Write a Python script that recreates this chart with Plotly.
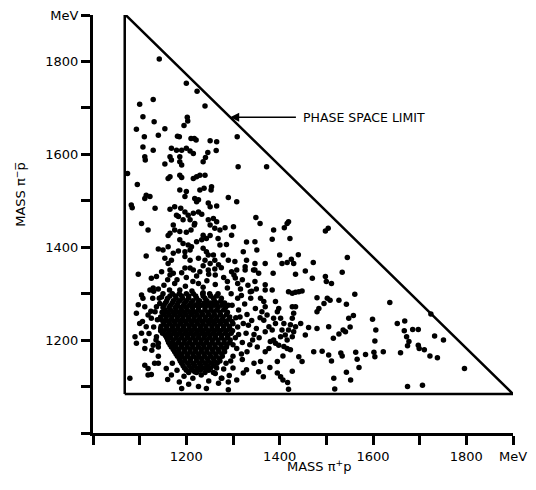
import plotly.graph_objects as go

# ---- phase-space boundary (MeV) ----
boundary_x = [1068, 1068, 1900, 1068]
boundary_y = [1084, 1902, 1084, 1084]

# ---- axis ticks ----
tick_vals = [1000, 1100, 1200, 1300, 1400, 1500, 1600, 1700, 1800, 1900]
tick_text = ["", "", "1200", "", "1400", "", "1600", "", "1800", "MeV"]

# ---- events: (M(pi+ p), M(pi- pbar)) in MeV ----
upper_events = [
    (1142, 1805), (1200, 1753), (1223, 1736), (1100, 1708), (1129, 1718), (1240, 1704),
    (1107, 1681), (1131, 1670), (1202, 1680), (1203, 1672), (1195, 1662), (1093, 1654),
    (1154, 1655), (1110, 1638), (1140, 1641), (1181, 1639), (1185, 1638), (1210, 1634),
    (1217, 1634), (1221, 1631), (1251, 1629), (1265, 1627), (1309, 1638),
    (1107, 1616), (1129, 1609), (1168, 1613), (1179, 1609), (1190, 1609), (1200, 1613),
    (1208, 1607), (1215, 1602), (1165, 1595), (1168, 1588), (1186, 1595), (1186, 1584),
    (1246, 1604), (1264, 1608), (1111, 1595), (1112, 1588), (1241, 1593), (1236, 1584),
    (1154, 1579), (1190, 1577), (1311, 1573), (1372, 1573), (1074, 1559), (1165, 1552),
    (1161, 1548), (1186, 1555), (1190, 1550), (1215, 1548), (1222, 1552), (1229, 1555),
    (1240, 1555), (1095, 1535), (1186, 1523), (1200, 1520), (1229, 1523), (1238, 1527),
    (1254, 1530), (1253, 1523), (1114, 1512), (1122, 1509), (1111, 1505), (1197, 1509),
    (1218, 1505), (1226, 1502), (1222, 1498), (1247, 1495), (1251, 1487), (1290, 1507),
    (1308, 1498), (1265, 1489), (1082, 1491), (1084, 1485), (1133, 1484), (1165, 1482),
    (1175, 1487), (1188, 1484), (1197, 1476), (1179, 1469), (1183, 1466), (1204, 1469),
    (1215, 1473), (1226, 1476), (1233, 1471), (1193, 1459), (1208, 1459), (1218, 1451),
    (1247, 1459), (1258, 1462), (1265, 1455), (1349, 1464), (1358, 1451), (1104, 1451),
    (1118, 1437), (1172, 1448), (1175, 1437), (1165, 1430), (1161, 1425), (1186, 1434),
    (1200, 1432), (1210, 1437), (1217, 1448), (1251, 1448), (1261, 1441), (1272, 1437),
    (1283, 1442), (1301, 1444), (1236, 1426), (1243, 1419), (1251, 1425), (1297, 1426),
]

middle_events = [
    (1222, 1412), (1233, 1416), (1186, 1416), (1193, 1408), (1204, 1405), (1211, 1401),
    (1268, 1419), (1272, 1405), (1286, 1406), (1329, 1411), (1347, 1412), (1161, 1401),
    (1150, 1394), (1140, 1396), (1172, 1387), (1183, 1392), (1197, 1390), (1208, 1394),
    (1236, 1398), (1243, 1390), (1247, 1383), (1258, 1383), (1279, 1383), (1290, 1372),
    (1304, 1369), (1322, 1390), (1351, 1394), (1114, 1381), (1154, 1376), (1168, 1372),
    (1161, 1365), (1197, 1380), (1208, 1372), (1226, 1376), (1240, 1372), (1251, 1365),
    (1261, 1372), (1269, 1362), (1329, 1372), (1347, 1365), (1369, 1365), (1147, 1347),
    (1165, 1351), (1172, 1344), (1197, 1355), (1215, 1351), (1229, 1347), (1247, 1351),
    (1261, 1353), (1297, 1347), (1308, 1351), (1326, 1351), (1347, 1351),
    (1387, 1437), (1384, 1417), (1410, 1442), (1416, 1451), (1419, 1455), (1422, 1419),
    (1498, 1435), (1504, 1441), (1400, 1383), (1405, 1365), (1416, 1367), (1425, 1374),
    (1430, 1365), (1440, 1384), (1472, 1367), (1545, 1378),
    (1097, 1342), (1125, 1333), (1136, 1337), (1104, 1297), (1107, 1290), (1122, 1308),
    (1129, 1312), (1093, 1258), (1090, 1207), (1093, 1193), (1111, 1182), (1111, 1146),
    (1118, 1139), (1118, 1125), (1125, 1126), (1079, 1118), (1140, 1150), (1157, 1139),
    (1168, 1125), (1190, 1096), (1243, 1096), (1136, 1207), (1140, 1193), (1129, 1189),
    (1100, 1236), (1114, 1229), (1104, 1215), (1118, 1254), (1125, 1247), (1133, 1261),
    (1097, 1276), (1111, 1272), (1143, 1279), (1147, 1293), (1344, 1351), (1355, 1344),
    (1326, 1358), (1369, 1319), (1347, 1326), (1337, 1304), (1269, 1107), (1276, 1118),
    (1290, 1110), (1308, 1114), (1322, 1129), (1329, 1136), (1355, 1132), (1365, 1121),
    (1290, 1093),
]

right_events = [
    (1386, 1344), (1434, 1342), (1455, 1349), (1470, 1333), (1498, 1337), (1500, 1326),
    (1511, 1322), (1534, 1346), (1369, 1308), (1384, 1308), (1419, 1304), (1427, 1301),
    (1434, 1303), (1441, 1304), (1448, 1306), (1480, 1291), (1495, 1279), (1502, 1290),
    (1508, 1286), (1484, 1268), (1480, 1261), (1527, 1286), (1543, 1277), (1561, 1299),
    (1636, 1281), (1548, 1247), (1558, 1253), (1599, 1245), (1606, 1222), (1604, 1198),
    (1652, 1236), (1668, 1241), (1667, 1220), (1672, 1207), (1674, 1188),
    (1359, 1290), (1366, 1283), (1369, 1272), (1362, 1261), (1373, 1254), (1366, 1243),
    (1377, 1229), (1369, 1218), (1384, 1222), (1391, 1236), (1387, 1247), (1395, 1261),
    (1398, 1268), (1391, 1283), (1402, 1247), (1409, 1236), (1405, 1222), (1402, 1207),
    (1412, 1211), (1416, 1200), (1419, 1222), (1423, 1233), (1427, 1247), (1430, 1258),
    (1427, 1272), (1434, 1272), (1430, 1218), (1427, 1207), (1434, 1229), (1445, 1236),
    (1380, 1197), (1377, 1182), (1369, 1175), (1391, 1193), (1398, 1189), (1409, 1186),
    (1416, 1182), (1423, 1179), (1387, 1200),
    (1455, 1211), (1462, 1227), (1480, 1225), (1505, 1229), (1515, 1204), (1527, 1213),
    (1536, 1222), (1541, 1218), (1551, 1228), (1407, 1166), (1395, 1154), (1441, 1164),
    (1448, 1154), (1473, 1175), (1491, 1176), (1505, 1168), (1511, 1155), (1531, 1172),
    (1534, 1166), (1563, 1174), (1566, 1159), (1584, 1169), (1602, 1174), (1604, 1164),
    (1622, 1175), (1659, 1173), (1359, 1154), (1379, 1141), (1395, 1129), (1402, 1121),
    (1407, 1114), (1417, 1109), (1427, 1133), (1516, 1118), (1518, 1095), (1543, 1131),
    (1552, 1114), (1570, 1141), (1419, 1094), (1674, 1100),
    (1724, 1256), (1685, 1223), (1697, 1223), (1677, 1197), (1697, 1189), (1699, 1182),
    (1710, 1179), (1732, 1209), (1751, 1200), (1722, 1166), (1738, 1162), (1796, 1139),
    (1706, 1103),
]

halo_events = [
    (1152, 1318), (1175, 1322), (1198, 1316), (1214, 1326), (1236, 1314), (1262, 1320),
    (1288, 1312), (1310, 1322), (1165, 1340), (1190, 1345), (1222, 1338), (1248, 1342),
    (1280, 1335), (1302, 1340), (1320, 1330), (1140, 1310), (1208, 1355), (1236, 1360),
    (1275, 1356), (1128, 1290), (1136, 1272), (1124, 1262), (1138, 1244), (1130, 1228),
    (1120, 1214), (1135, 1200), (1126, 1178), (1140, 1165), (1132, 1150), (1112, 1198),
    (1106, 1240), (1310, 1290), (1325, 1278), (1338, 1290), (1312, 1265), (1330, 1255),
    (1348, 1268), (1306, 1248), (1322, 1236), (1340, 1242), (1310, 1228), (1328, 1215),
    (1350, 1225), (1305, 1205), (1320, 1195), (1342, 1200), (1308, 1182), (1330, 1175),
    (1352, 1185), (1300, 1165), (1320, 1158), (1345, 1150), (1356, 1205), (1358, 1248),
    (1316, 1310), (1340, 1305), (1180, 1135), (1195, 1122), (1214, 1118), (1232, 1125),
    (1248, 1112), (1262, 1128), (1280, 1138), (1292, 1124), (1205, 1105), (1226, 1100),
    (1170, 1150), (1285, 1150), (1300, 1140),
    (1296, 1300), (1318, 1296), (1332, 1318), (1350, 1310), (1288, 1326), (1305, 1334),
    (1262, 1340), (1244, 1328), (1226, 1322), (1180, 1330), (1160, 1330), (1200, 1335),
    (1150, 1300), (1298, 1275), (1315, 1250), (1333, 1232), (1345, 1212), (1312, 1212),
    (1336, 1190), (1300, 1190), (1318, 1170), (1295, 1155), (1140, 1185), (1145, 1220),
    (1142, 1290), (1130, 1305), (1265, 1140), (1245, 1140), (1218, 1132), (1275, 1118),
    (1185, 1110), (1160, 1115), (1236, 1302), (1212, 1306), (1186, 1308), (1164, 1308),
]

# dense core: rows of (M(pi- pbar), [M(pi+ p) ...])
core_rows = [
    (1300, [1170, 1185, 1200, 1215, 1235, 1250, 1268]),
    (1295, [1165, 1177, 1190, 1205, 1220, 1236, 1252, 1265]),
    (1290, [1160, 1178, 1192, 1205, 1222, 1240, 1258, 1275]),
    (1285, [1158, 1172, 1186, 1200, 1214, 1228, 1244, 1260, 1274]),
    (1280, [1155, 1170, 1182, 1196, 1210, 1225, 1238, 1252, 1266, 1282]),
    (1275, [1152, 1166, 1180, 1194, 1206, 1219, 1232, 1246, 1260, 1276, 1290]),
    (1270, [1150, 1163, 1176, 1188, 1200, 1213, 1226, 1240, 1253, 1268, 1284]),
    (1265, [1154, 1166, 1178, 1190, 1202, 1214, 1226, 1240, 1253, 1265, 1280]),
    (1260, [1148, 1160, 1172, 1184, 1196, 1208, 1220, 1233, 1246, 1259, 1272, 1288]),
    (1255, [1151, 1163, 1175, 1187, 1199, 1211, 1223, 1235, 1248, 1260, 1273, 1286]),
    (1250, [1145, 1157, 1169, 1181, 1193, 1205, 1217, 1229, 1241, 1254, 1266, 1279, 1293]),
    (1245, [1145, 1156, 1168, 1180, 1192, 1204, 1216, 1228, 1240, 1252, 1264, 1277, 1291]),
    (1240, [1150, 1162, 1174, 1186, 1198, 1210, 1222, 1234, 1246, 1258, 1271, 1284, 1298]),
    (1235, [1152, 1164, 1176, 1188, 1200, 1212, 1224, 1236, 1249, 1261, 1274, 1286, 1300]),
    (1230, [1146, 1158, 1170, 1182, 1194, 1206, 1218, 1230, 1242, 1255, 1267, 1280, 1292]),
    (1225, [1145, 1158, 1170, 1182, 1194, 1206, 1218, 1230, 1242, 1255, 1267, 1280, 1293]),
    (1220, [1152, 1164, 1176, 1188, 1200, 1212, 1224, 1236, 1248, 1261, 1273, 1286, 1299]),
    (1215, [1149, 1161, 1173, 1185, 1197, 1209, 1221, 1233, 1245, 1257, 1270, 1283, 1296]),
    (1210, [1155, 1167, 1179, 1191, 1203, 1215, 1227, 1239, 1251, 1263, 1276, 1289]),
    (1205, [1158, 1166, 1178, 1190, 1202, 1214, 1226, 1238, 1250, 1262, 1275, 1288]),
    (1200, [1160, 1172, 1184, 1196, 1208, 1220, 1232, 1244, 1256, 1268, 1281, 1294]),
    (1195, [1162, 1171, 1183, 1195, 1207, 1219, 1231, 1243, 1255, 1268, 1281, 1293]),
    (1190, [1165, 1177, 1189, 1201, 1213, 1225, 1237, 1249, 1261, 1274, 1287]),
    (1185, [1168, 1178, 1190, 1202, 1214, 1226, 1238, 1250, 1262, 1275, 1286]),
    (1180, [1172, 1184, 1196, 1208, 1220, 1232, 1244, 1256, 1268, 1281]),
    (1175, [1175, 1184, 1196, 1208, 1220, 1232, 1244, 1257, 1270, 1282]),
    (1170, [1178, 1190, 1202, 1214, 1226, 1238, 1250, 1263, 1276]),
    (1165, [1181, 1191, 1203, 1215, 1227, 1239, 1252, 1264, 1277]),
    (1160, [1185, 1197, 1209, 1221, 1233, 1245, 1258, 1271]),
    (1155, [1187, 1197, 1209, 1222, 1234, 1247, 1260, 1272]),
    (1150, [1190, 1203, 1215, 1228, 1240, 1253, 1266]),
    (1145, [1193, 1206, 1218, 1231, 1245, 1259]),
    (1140, [1196, 1210, 1224, 1238, 1252]),
    (1135, [1200, 1214, 1230, 1248]),
    (1130, [1205, 1222, 1240, 1258]),
]

ev_x, ev_y = [], []
for group in (upper_events, middle_events, right_events, halo_events):
    for mx, my in group:
        ev_x.append(mx)
        ev_y.append(my)
for my, row in core_rows:
    for mx in row:
        ev_x.append(mx)
        ev_y.append(my)

FONT = "DejaVu Sans"

fig = go.Figure()
fig.add_trace(go.Scatter(
    x=boundary_x, y=boundary_y, mode="lines",
    line=dict(color="black", width=2.5), cliponaxis=False, hoverinfo="skip",
))
fig.add_trace(go.Scatter(
    x=ev_x, y=ev_y, mode="markers",
    marker=dict(color="black", size=5.5, line=dict(width=0)),
))

axis_common = dict(
    range=[1000, 1900], showgrid=False, zeroline=False, automargin=False,
    showline=True, linewidth=3, linecolor="black",
    ticks="outside", ticklen=9, tickwidth=3, tickcolor="black",
    tickvals=tick_vals, ticktext=tick_text, ticklabeloverflow="allow",
    tickfont=dict(family=FONT, size=13, color="black"),
)

fig.update_layout(
    width=528, height=482,
    margin=dict(l=85, r=23, t=7, b=57),
    paper_bgcolor="white", plot_bgcolor="white",
    showlegend=False,
    xaxis=axis_common,
    yaxis=axis_common,
    annotations=[
        dict(x=1294, y=1680, ax=1438, ay=1680, xref="x", yref="y", axref="x", ayref="y",
             text="", showarrow=True, arrowhead=2, arrowsize=1.2, arrowwidth=1.5,
             arrowcolor="black"),
        dict(x=1445, y=1680, xref="x", yref="y", text="PHASE SPACE LIMIT",
             showarrow=False, xanchor="left", yanchor="middle",
             font=dict(family=FONT, size=12.5, color="black")),
        dict(x=0.537, y=-0.079, xref="paper", yref="paper",
             text="MASS π<sup>+</sup>p", showarrow=False,
             xanchor="center", yanchor="middle",
             font=dict(family=FONT, size=13, color="black")),
        dict(x=-0.174, y=0.572, xref="paper", yref="paper",
             text="MASS π<sup>−</sup>p\u0305", showarrow=False, textangle=-90,
             xanchor="center", yanchor="middle",
             font=dict(family=FONT, size=13, color="black")),
    ],
)

fig.write_html("out.html")
